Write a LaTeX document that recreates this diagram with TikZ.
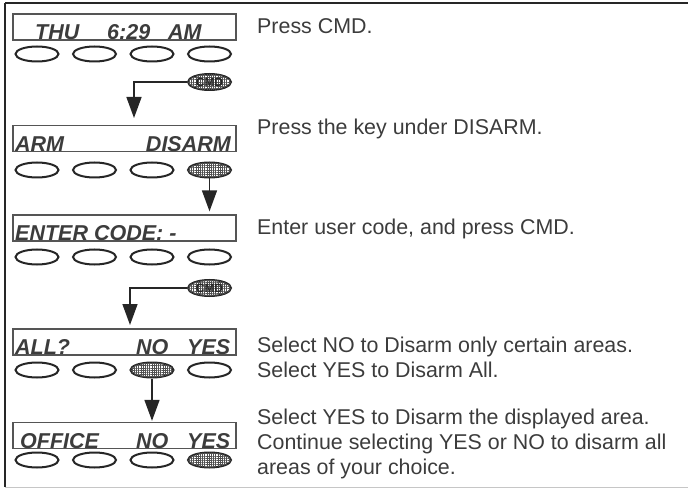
\documentclass[tikz,border=0pt]{standalone}
\usepackage{fontspec}
\setmainfont{Liberation Sans}
\usetikzlibrary{shapes.geometric,arrows.meta,patterns.meta}
\definecolor{ink}{HTML}{262626}
\definecolor{txt}{HTML}{3C3C3C}
\definecolor{boxline}{HTML}{555555}
\tikzset{
  dispbox/.style={draw=boxline, line width=1.3pt, minimum width=223pt, minimum height=26pt, inner sep=0pt},
  key/.style={ellipse, draw=ink, line width=2pt, minimum width=43pt, minimum height=15pt, inner sep=0pt},
  pressed/.style={key, fill=white, postaction={pattern={Hatch[angle=0,distance=2.2pt,line width=0.6pt]}, pattern color=ink!80}},
  cmdkey/.style={pressed, minimum height=16pt, font=\bfseries\fontsize{12}{12}\selectfont, text=ink},
  distxt/.style={font=\bfseries\itshape\fontsize{21.5}{21.5}\selectfont, text=txt, inner sep=0pt, anchor=base west},
  desc/.style={font=\fontsize{21.4}{24.5}\selectfont, text=txt, inner sep=0pt, anchor=base west},
  conn/.style={draw=ink, line width=1.5pt, -{Triangle[length=21pt,width=15pt]}},
}
\begin{document}
\begin{tikzpicture}[x=1pt,y=-1pt]
\useasboundingbox (0,0) rectangle (688,489);
% frame
\coordinate (ftl) at (5,3);
\coordinate (ftr) at (688,3);
\coordinate (fbl) at (5,487);
\coordinate (fbr) at (688,487);
\draw[ink, line width=2.5pt] (ftl) -- (ftr);
\draw[ink, line width=2pt] (ftl) -- (fbl);
\draw[gray!45, line width=1pt] (fbl) -- (fbr);

% displays
\node[dispbox] (d1) at (124.5,27) {};
\node[dispbox] (d2) at (124.5,138.5) {};
\node[dispbox] (d3) at (124.5,228) {};
\node[dispbox] (d4) at (124.5,342) {};
\node[dispbox] (d5) at (124.5,435.5) {};

% display texts
\node[distxt] (t1a) at (35,39.5) {THU};
\node[distxt] (t1b) at (107,39.5) {6:29};
\node[distxt] (t1c) at (168,39.5) {AM};
\node[distxt] (t2a) at (15,151.5) {ARM};
\node[distxt, anchor=base east] (t2b) at (231,151.5) {DISARM};
\node[distxt] (t3a) at (15,240.5) {ENTER CODE: -};
\node[distxt] (t4a) at (15,354.5) {ALL?};
\node[distxt] (t4b) at (136,354.5) {NO};
\node[distxt] (t4c) at (187,354.5) {YES};
\node[distxt] (t5a) at (20,448) {OFFICE};
\node[distxt] (t5b) at (136,448) {NO};
\node[distxt] (t5c) at (187,448) {YES};

% keys row 1
\node[key] (k11) at (37,54) {};
\node[key] (k12) at (94.5,54) {};
\node[key] (k13) at (152,54) {};
\node[key] (k14) at (209.5,54) {};
\node[cmdkey] (cmd1) at (209.5,82) {CMD};
% row 2
\node[key] (k21) at (37,170) {};
\node[key] (k22) at (94.5,170) {};
\node[key] (k23) at (152,170) {};
\node[pressed] (k24) at (209.5,170) {};
% row 3
\node[key] (k31) at (37,257) {};
\node[key] (k32) at (94.5,257) {};
\node[key] (k33) at (152,257) {};
\node[key] (k34) at (209.5,257) {};
\node[cmdkey] (cmd3) at (209.5,288) {CMD};
% row 4
\node[key] (k41) at (37,370) {};
\node[key] (k42) at (94.5,370) {};
\node[pressed] (k43) at (152,370) {};
\node[key] (k44) at (209.5,370) {};
% row 5
\node[key] (k51) at (37,460) {};
\node[key] (k52) at (94.5,460) {};
\node[key] (k53) at (152,460) {};
\node[pressed] (k54) at (209.5,460) {};

% connectors
\coordinate (a1) at (134,118);
\coordinate (a3) at (130,325);
\draw[conn] (cmd1.west) -| (a1);
\draw[conn, shorten >=3pt] (k24.south) -- (k24.south |- d3.north);
\draw[conn] (cmd3.west) -| (a3);
\draw[conn, shorten >=1pt] (k43.south) -- (k43.south |- d5.north);

% descriptions
\node[desc] (p1) at (257,34) {Press CMD.};
\node[desc] (p2) at (257,135) {Press the key under DISARM.};
\node[desc] (p3) at (257,234) {Enter user code, and press CMD.};
\node[desc] (p4a) at (257,352) {Select NO to Disarm only certain areas.};
\node[desc] (p4b) at (257,377) {Select YES to Disarm All.};
\node[desc] (p5a) at (257,424) {Select YES to Disarm the displayed area.};
\node[desc] (p5b) at (257,449) {Continue selecting YES or NO to disarm all};
\node[desc] (p5c) at (257,474) {areas of your choice.};
\end{tikzpicture}
\end{document}
